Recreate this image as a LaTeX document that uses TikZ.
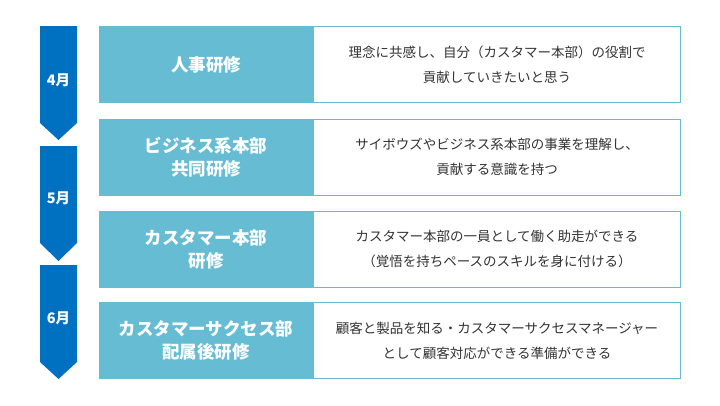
\documentclass[tikz,border=0pt]{standalone}
\usepackage{fontspec}
\newfontfamily\jp{Noto Sans CJK JP}
\definecolor{arrowblue}{HTML}{0070C0}
\definecolor{lightblue}{HTML}{65BCD3}
\definecolor{txtgray}{HTML}{333333}
\begin{document}
\begin{tikzpicture}[x=1pt,y=-1pt,
  lbox/.style={fill=lightblue, draw=none, minimum width=214pt, minimum height=77pt, inner sep=0pt,
    text=white, font=\jp\bfseries\fontsize{17.5}{23}\selectfont, align=center},
  rbox/.style={fill=white, draw=lightblue, line width=1pt, minimum width=367pt, minimum height=76pt, inner sep=0pt,
    text=txtgray, font=\jp\fontsize{13.5}{25}\selectfont, align=center},
  month/.style={text=white, font=\jp\bfseries\fontsize{14.5}{16}\selectfont, inner sep=0pt},
  arrowshape/.style={fill=arrowblue, draw=none}]
\useasboundingbox (0,0) rectangle (720,405);
% arrows
\fill[arrowshape] (40,26) -- (77,26) -- (77,123) -- (58.5,140) -- (40,123) -- cycle;
\fill[arrowshape] (40,146) -- (77,146) -- (77,243) -- (58.5,261) -- (40,243) -- cycle;
\fill[arrowshape] (40,265) -- (77,265) -- (77,362) -- (58.5,379) -- (40,362) -- cycle;
\node[month] (m4) at (58.5,80) {4月};
\node[month] (m5) at (58.5,198) {5月};
\node[month] (m6) at (58.5,318) {6月};
% right boxes
\node[rbox] (r1) at (497,64.5) {理念に共感し、自分（カスタマー本部）の役割で\\貢献していきたいと思う};
\node[rbox] (r2) at (497,157) {サイボウズやビジネス系本部の事業を理解し、\\貢献する意識を持つ};
\node[rbox] (r3) at (497,249) {カスタマー本部の一員として働く助走ができる\\（覚悟を持ちペースのスキルを身に付ける）};
\node[rbox] (r4) at (497,340.5) {顧客と製品を知る・カスタマーサクセスマネージャー\\として顧客対応ができる準備ができる};
% left boxes
\node[lbox] (l1) at (206,64.5) {人事研修};
\node[lbox] (l2) at (206,157) {ビジネス系本部\\共同研修};
\node[lbox] (l3) at (206,249) {カスタマー本部\\研修};
\node[lbox] (l4) at (206,340.5) {カスタマーサクセス部\\配属後研修};
\end{tikzpicture}
\end{document}
